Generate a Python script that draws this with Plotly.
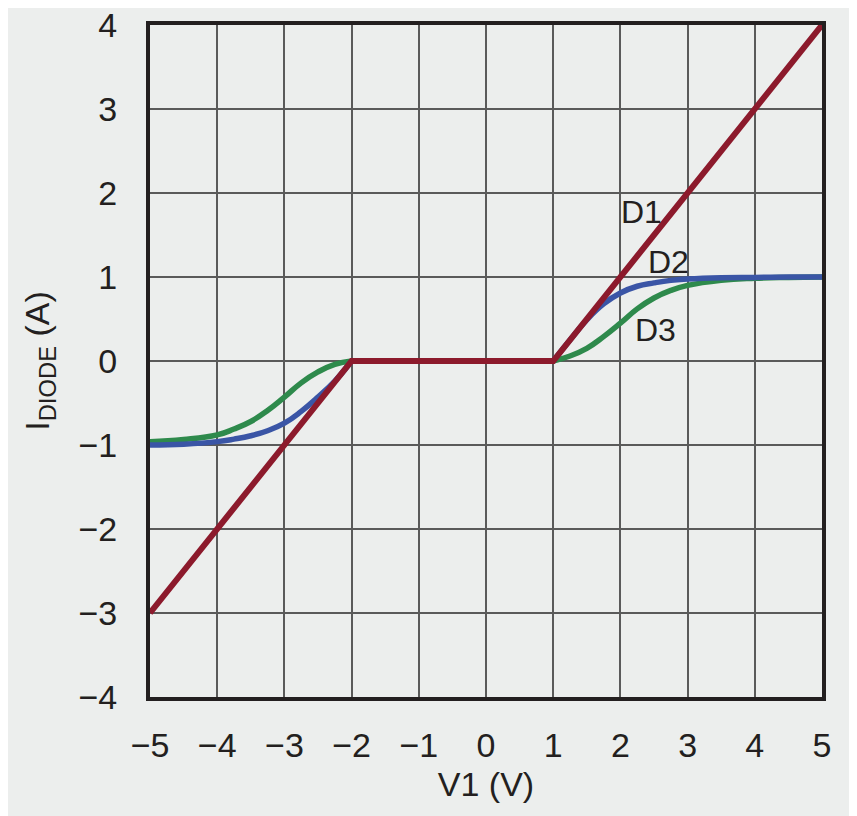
import plotly.graph_objects as go

# ideal diode D1, current-limited D2 / D3
# flat 0 A stretch between -2 V and 1 V is drawn by D1 only
D1_X = [-5, -2, 1, 5]
D1_Y = [-3, 0, 0, 4]

D2_X = [-5, -4.5, -4, -3.75, -3.5, -3.25, -3, -2.75, -2.5, -2.25, -2, None,
        1, 1.25, 1.5, 1.75, 2, 2.25, 2.5, 2.75, 3, 3.5, 4, 4.5, 5]
D2_Y = [-1.0, -0.99, -0.96, -0.93, -0.89, -0.83, -0.74, -0.6, -0.43, -0.24, 0, None,
        0, 0.25, 0.49, 0.68, 0.81, 0.89, 0.93, 0.96, 0.975, 0.99, 0.995, 1.0, 1.0]

D3_X = [-5, -4.5, -4, -3.75, -3.5, -3.25, -3, -2.75, -2.5, -2.25, -2, None,
        1, 1.25, 1.5, 1.75, 2, 2.25, 2.5, 2.75, 3, 3.5, 4, 4.5, 5]
D3_Y = [-0.96, -0.935, -0.88, -0.81, -0.72, -0.59, -0.43, -0.26, -0.13, -0.04, 0, None,
        0, 0.06, 0.15, 0.29, 0.45, 0.62, 0.75, 0.84, 0.9, 0.96, 0.985, 0.995, 1.0]

LABELS = [('D1', 2.32, 1.77), ('D2', 2.72, 1.18), ('D3', 2.52, 0.37)]

X_TICKS = list(range(-5, 6))
Y_TICKS = list(range(-4, 5))

RED = '#8C1A2C'
BLUE = '#3A55A6'
GREEN = '#2E8A4C'
BG = '#ECEEED'
GRID = '#5A5A5A'
INK = '#231F20'
FONT = 'Liberation Sans, Arial, sans-serif'

fig = go.Figure()
fig.add_trace(go.Scatter(x=D3_X, y=D3_Y, mode='lines', name='D3',
                         line=dict(color=GREEN, width=5.5, shape='spline', smoothing=1.3)))
fig.add_trace(go.Scatter(x=D2_X, y=D2_Y, mode='lines', name='D2',
                         line=dict(color=BLUE, width=5.5, shape='spline', smoothing=1.3)))
fig.add_trace(go.Scatter(x=D1_X, y=D1_Y, mode='lines', name='D1',
                         line=dict(color=RED, width=6)))

for txt, lx, ly in LABELS:
    fig.add_annotation(x=lx, y=ly, text=txt, showarrow=False,
                       font=dict(family=FONT, size=32, color=INK))

fig.update_xaxes(range=[-5, 5], tickvals=X_TICKS, showgrid=True,
                 gridcolor=GRID, gridwidth=2, zeroline=False,
                 showline=True, linecolor=INK, linewidth=4, mirror=True,
                 ticks='', ticklabelstandoff=15, automargin=False,
                 ticklabeloverflow='allow',
                 tickfont=dict(family=FONT, size=34, color=INK),
                 title=dict(text='V1 (V)', standoff=10,
                            font=dict(family=FONT, size=34, color=INK)))
fig.update_yaxes(range=[-4, 4], tickvals=Y_TICKS, showgrid=True,
                 gridcolor=GRID, gridwidth=2, zeroline=False,
                 showline=True, linecolor=INK, linewidth=4, mirror=True,
                 ticks='', ticklabelstandoff=22, automargin=False,
                 ticklabeloverflow='allow',
                 tickfont=dict(family=FONT, size=34, color=INK),
                 title=dict(text='I<sub>DIODE</sub> (A)', standoff=20,
                            font=dict(family=FONT, size=34, color=INK)))

# page body adds 8 px, so the figure is 8 px smaller and margins shifted
fig.update_layout(
    width=849, height=808,
    margin=dict(l=142, r=35, t=17, b=119),
    paper_bgcolor=BG, plot_bgcolor=BG,
    showlegend=False,
    font=dict(family=FONT, color=INK),
)

fig.write_html('out.html')
